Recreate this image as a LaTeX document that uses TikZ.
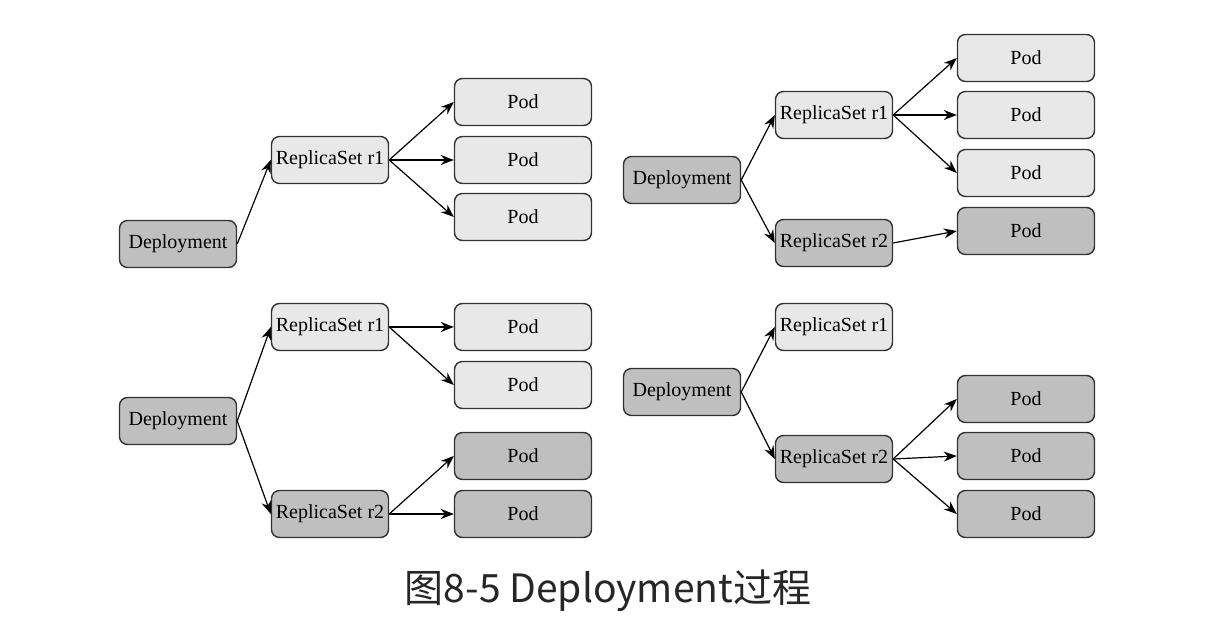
\documentclass[tikz,border=0pt]{standalone}
\usepackage{fontspec}
\setmainfont{Liberation Serif}
\newfontfamily\cjk{Noto Sans CJK SC}
\usetikzlibrary{arrows.meta}
\definecolor{oldgray}{HTML}{E8E8E8}
\definecolor{newgray}{HTML}{BFBFBF}
\tikzset{
  box/.style={draw=black!80,line width=0.7pt,rounded corners=4pt,inner sep=0pt,
    minimum height=23.5pt,font=\fontsize{10}{11}\selectfont},
  rsbox/.style={box,minimum width=58.5pt},
  podbox/.style={box,minimum width=68.5pt},
  old/.style={fill=oldgray},
  new/.style={fill=newgray},
}
\begin{document}
\begin{tikzpicture}[x=0.5pt,y=-0.5pt,>={Stealth[length=6.5pt,width=5pt]},line width=0.6pt]
\useasboundingbox (0,0) rectangle (1228,636);
% top left
\node[rsbox,new] (d1) at (178,244) {Deployment};
\node[rsbox,old] (d1r1) at (330,160) {ReplicaSet r1};
\draw[->] (d1.east) -- (d1r1.west);
\foreach \y [count=\i] in {102,160,217}{
  \node[podbox,old] (d1p\i) at (523,\y) {Pod};
  \draw[->] (d1r1.east) -- (d1p\i.west);
}
% top right
\node[rsbox,new] (d2) at (682,180) {Deployment};
\node[rsbox,old] (d2r1) at (834,115) {ReplicaSet r1};
\node[rsbox,new] (d2r2) at (834,243) {ReplicaSet r2};
\draw[->] (d2.east) -- (d2r1.west);
\draw[->] (d2.east) -- (d2r2.west);
\foreach \y [count=\i] in {58,115,173}{
  \node[podbox,old] (d2p\i) at (1026,\y) {Pod};
  \draw[->] (d2r1.east) -- (d2p\i.west);
}
\node[podbox,new] (d2q1) at (1026,231) {Pod};
\draw[->] (d2r2.east) -- (d2q1.west);
% bottom left
\node[rsbox,new] (d3) at (178,421) {Deployment};
\node[rsbox,old] (d3r1) at (330,327) {ReplicaSet r1};
\node[rsbox,new] (d3r2) at (330,514) {ReplicaSet r2};
\draw[->] (d3.east) -- (d3r1.west);
\draw[->] (d3.east) -- (d3r2.west);
\foreach \y [count=\i] in {327,385}{
  \node[podbox,old] (d3p\i) at (523,\y) {Pod};
  \draw[->] (d3r1.east) -- (d3p\i.west);
}
\foreach \y [count=\i] in {456,514}{
  \node[podbox,new] (d3q\i) at (523,\y) {Pod};
  \draw[->] (d3r2.east) -- (d3q\i.west);
}
% bottom right
\node[rsbox,new] (d4) at (682,392) {Deployment};
\node[rsbox,old] (d4r1) at (834,327) {ReplicaSet r1};
\node[rsbox,new] (d4r2) at (834,459) {ReplicaSet r2};
\draw[->] (d4.east) -- (d4r1.west);
\draw[->] (d4.east) -- (d4r2.west);
\foreach \y [count=\i] in {399,456,514}{
  \node[podbox,new] (d4q\i) at (1026,\y) {Pod};
  \draw[->] (d4r2.east) -- (d4q\i.west);
}
% caption
\node[font=\cjk\fontsize{19.5}{22}\selectfont,text=black!85] (title) at (608,591) {图8-5 Deployment过程};
\end{tikzpicture}
\end{document}
